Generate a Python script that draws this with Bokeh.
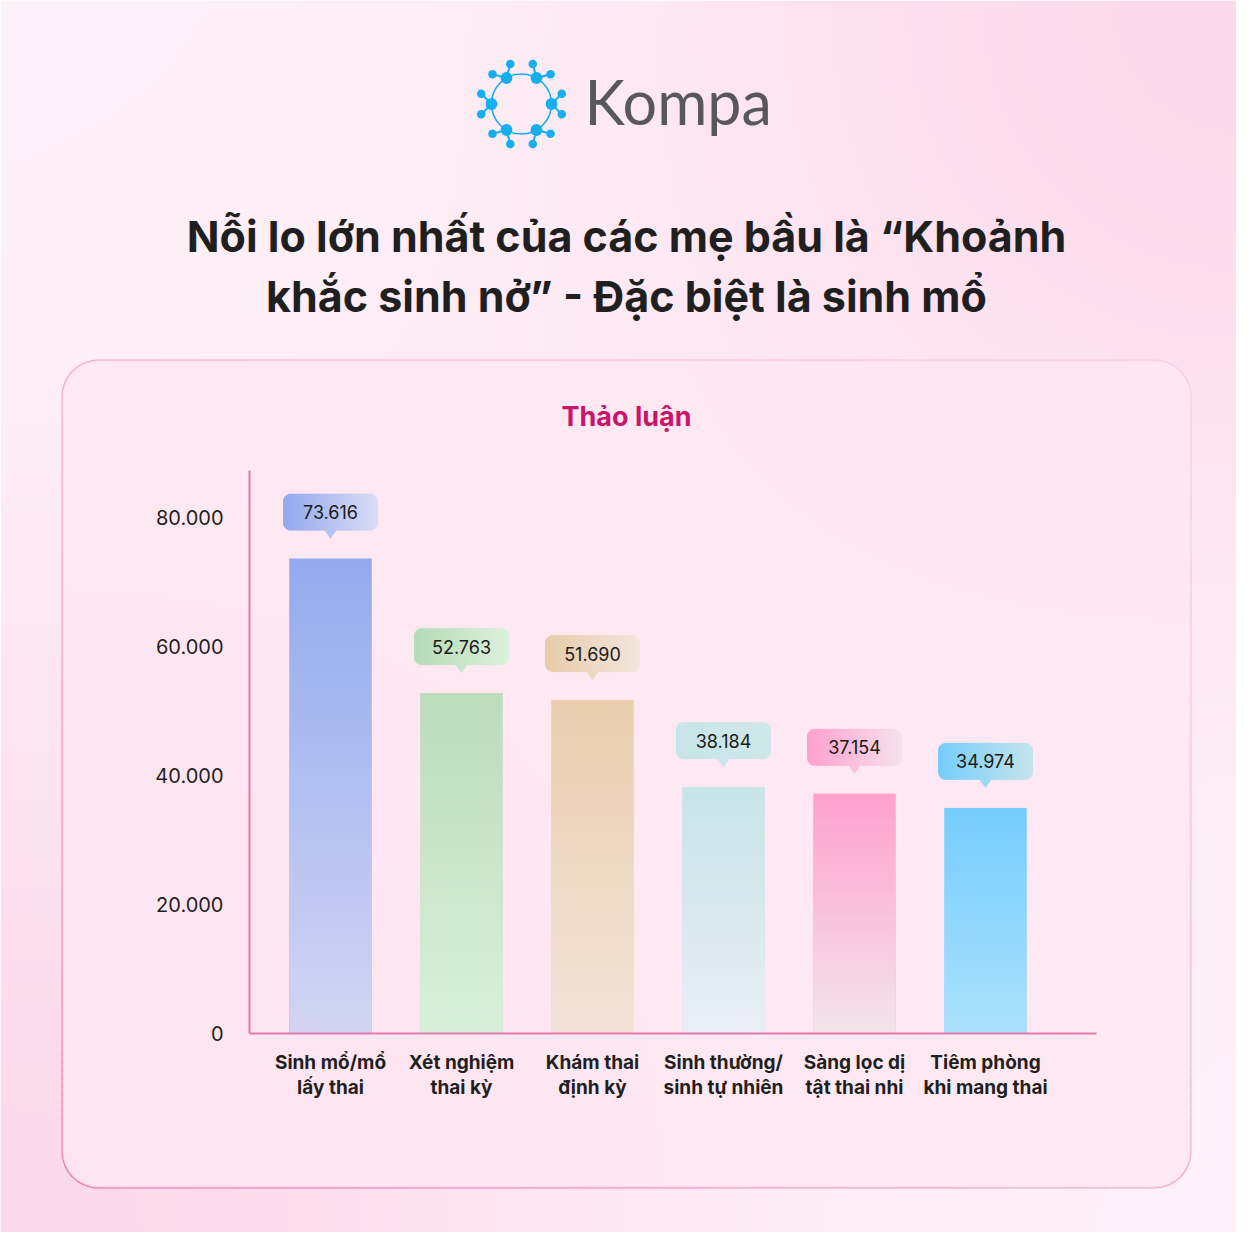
import numpy as np
from bokeh.plotting import figure
from bokeh.models import Range1d, LinearAxis, FixedTicker, BoxAnnotation
from bokeh.core.properties import value
from bokeh.embed import file_html
from bokeh.resources import INLINE

# ---------------- data ----------------
categories = ["Sinh mổ/mổ\nlấy thai", "Xét nghiệm\nthai kỳ", "Khám thai\nđịnh kỳ",
              "Sinh thường/\nsinh tự nhiên", "Sàng lọc dị\ntật thai nhi",
              "Tiêm phòng\nkhi mang thai"]
discussions = [73616, 52763, 51690, 38184, 37154, 34974]
value_labels = ["73.616", "52.763", "51.690", "38.184", "37.154", "34.974"]
y_ticks = [0, 20000, 40000, 60000, 80000]
y_tick_labels = ["0", "20.000", "40.000", "60.000", "80.000"]

title_lines = ["Nỗi lo lớn nhất của các mẹ bầu là “Khoảnh",
               "khắc sinh nở” - Đặc biệt là sinh mổ"]
subtitle = "Thảo luận"
brand = "Kompa"

bar_top_colors = ["#93abee", "#bcdcbc", "#e9cfae", "#c8e4e7", "#ffa1ce", "#76cefe"]
bar_bottom_colors = ["#d3d5f4", "#d9f1da", "#f3e3d9", "#eaeff6", "#f4e5eb", "#ace1fc"]
call_left_colors = ["#93a9ee", "#b5dcb6", "#e6ccaa", "#c9e5e8", "#ffa1cd", "#75cdfd"]
call_right_colors = ["#d9ddf7", "#ddf1dc", "#f4e6dd", "#cfe8ea", "#f7e1ec", "#c5e5ea"]

# ---------------- geometry (canvas pixels) ----------------
W, H = 1236, 1232
AX_L, AX_R, AX_T, AX_B = 249, 1096, 470, 1033   # chart area in canvas px
C0, STEP = 330, 131                              # first bar centre, spacing (px)
PX_PER_1000 = 6.45
uy = 1000 / PX_PER_1000                          # data units per px
Y_TOP = (AX_B - AX_T) * uy
BAR_W = 82 / STEP


def hex2rgb(h):
    return np.array([int(h[i:i + 2], 16) for i in (1, 3, 5)], dtype=float)


def rgb2hex(c):
    c = np.clip(np.round(c), 0, 255).astype(int)
    return "#%02x%02x%02x" % tuple(c)


def pack(arr):
    n, m, _ = arr.shape
    return np.ascontiguousarray(arr.astype(np.uint8)).view(np.uint32).reshape(n, m)


def vgrad(top, bottom, n=256, m=2):
    t = np.linspace(0, 1, n)[:, None]
    rgb = hex2rgb(bottom) * (1 - t) + hex2rgb(top) * t
    arr = np.zeros((n, m, 4))
    arr[..., :3] = rgb[:, None, :]
    arr[..., 3] = 255
    return pack(arr)


CW, CBOX, CPTR, CR, SS = 95, 37, 8, 8, 4


def callout_img(left, right):
    Ht = CBOX + CPTR
    xs_ = (np.arange(CW * SS) + 0.5) / SS
    ys_ = (np.arange(Ht * SS) + 0.5) / SS
    X, Y = np.meshgrid(xs_, ys_)
    dx = np.maximum(np.maximum(CR - X, 0), X - (CW - CR))
    dy = np.maximum(np.maximum(CR - Y, 0), Y - (CBOX - CR))
    box = (Y < CBOX) & (dx ** 2 + dy ** 2 <= CR ** 2)
    hw = 6.5 * (1 - (Y - (CBOX - 1)) / (CPTR + 1))
    tri = (Y >= CBOX - 1) & (np.abs(X - CW / 2) <= hw)
    mask = (box | tri).astype(float).reshape(Ht, SS, CW, SS).mean(axis=(1, 3))
    t = np.linspace(0, 1, CW)[None, :, None]
    rgb = hex2rgb(left) * (1 - t) + hex2rgb(right) * t
    arr = np.zeros((Ht, CW, 4))
    arr[..., :3] = rgb
    arr[..., 3] = mask * 255
    return pack(arr[::-1])


def background_img(nx=155, ny=154):
    Xs = (np.arange(nx) + 0.5) * W / nx
    Ys = H - (np.arange(ny) + 0.5) * H / ny        # row 0 = bottom
    X, Y = np.meshgrid(Xs, Ys)
    w1 = np.exp(-((X - 0) ** 2 + (Y - 1248) ** 2) / 700 ** 2)
    w2 = np.exp(-((X - 1252) ** 2 + (Y - 0) ** 2) / 650 ** 2)
    w = np.clip(w1 + w2, 0, 1)[..., None]
    base, pink = hex2rgb("#fff4fa"), hex2rgb("#fcdaeb")
    arr = np.zeros((ny, nx, 4))
    arr[..., :3] = base * (1 - w) + pink * w
    arr[..., 3] = 255
    return pack(arr)


# data ranges chosen so that the whole canvas is the frame
x_range = Range1d((0 - C0) / STEP, (W - C0) / STEP)
y_range = Range1d(-(H - AX_B) * uy, AX_B * uy)

p = figure(width=W, height=H, output_backend="svg", toolbar_location=None, tools="",
           x_range=x_range, y_range=y_range, x_axis_type=None, y_axis_type=None,
           min_border=0)
p.title.visible = False
p.border_fill_color = "#fff2f8"
p.background_fill_alpha = 0
p.outline_line_color = None
p.extra_x_ranges = {"px": Range1d(0, W)}
p.extra_y_ranges = {"py": Range1d(0, H)}
PXR = dict(x_range_name="px", y_range_name="py")


def PY(Y):
    return H - Y


# background gradient
p.image_rgba(image=[background_img()], x=[0], y=[0], dw=[W], dh=[H], level="image", **PXR)

# card
CL, CT, CRt, CB, RAD = 62, 360, 1190, 1187, 36
p.add_layout(BoxAnnotation(left=CL, right=CRt, top=PY(CT), bottom=PY(CB),
                           left_units="screen", right_units="screen",
                           top_units="screen", bottom_units="screen",
                           fill_color="#fde7f2", fill_alpha=0.75, line_color=None,
                           border_radius=RAD, level="underlay"))


def rr_path(l, t, r, b, rad):
    pts = []

    def edge(p0, p1):
        n = max(2, int(np.hypot(p1[0] - p0[0], p1[1] - p0[1]) / 8))
        for k in range(n):
            pts.append((p0[0] + (p1[0] - p0[0]) * k / n, p0[1] + (p1[1] - p0[1]) * k / n))

    def arc(cx, cy, a0, a1):
        for a in np.linspace(np.deg2rad(a0), np.deg2rad(a1), 18)[:-1]:
            pts.append((cx + rad * np.cos(a), cy + rad * np.sin(a)))

    edge((l + rad, t), (r - rad, t)); arc(r - rad, t + rad, -90, 0)
    edge((r, t + rad), (r, b - rad)); arc(r - rad, b - rad, 0, 90)
    edge((r - rad, b), (l + rad, b)); arc(l + rad, b - rad, 90, 180)
    edge((l, b - rad), (l, t + rad)); arc(l + rad, t + rad, 180, 270)
    pts.append(pts[0])
    return np.array(pts)


path = rr_path(CL, CT, CRt, CB, RAD)
mid = (path[:-1] + path[1:]) / 2
wgt = 0.5 * (mid[:, 1] - CT) / (CB - CT) + 0.5 * (CRt - mid[:, 0]) / (CRt - CL)
wgt = np.clip(wgt, 0, 1) ** 1.4
light, dark = hex2rgb("#f7cde1"), hex2rgb("#e27aae")
seg_colors = [rgb2hex(light * (1 - w) + dark * w) for w in wgt]
p.segment(x0=path[:-1, 0], y0=PY(path[:-1, 1]), x1=path[1:, 0], y1=PY(path[1:, 1]),
          line_color=seg_colors, line_width=2, line_cap="round", level="underlay", **PXR)

# logo
ccx, ccy, RR = 521, 103.5, 30
blue = "#15aef0"
p.circle(x=[ccx], y=[PY(ccy)], radius=RR, fill_color=None, line_color=blue, line_width=1.6, **PXR)
big_x, big_y, sm_x, sm_y, s0x, s0y, s1x, s1y = [], [], [], [], [], [], [], []
for k in range(6):
    th = np.deg2rad(60 * k)
    bx, by = ccx + RR * np.cos(th), ccy + RR * np.sin(th)
    big_x.append(bx); big_y.append(PY(by))
    for d in (-45, 45):
        ph = th + np.deg2rad(d)
        ex, ey = bx + 14.5 * np.cos(ph), by + 14.5 * np.sin(ph)
        sm_x.append(ex); sm_y.append(PY(ey))
        s0x.append(bx); s0y.append(PY(by)); s1x.append(ex); s1y.append(PY(ey))
p.segment(x0=s0x, y0=s0y, x1=s1x, y1=s1y, line_color=blue, line_width=2, **PXR)
p.scatter(x=sm_x, y=sm_y, size=8.6, fill_color=blue, line_color=None, **PXR)
p.scatter(x=big_x, y=big_y, size=11.8, fill_color=blue, line_color=None, **PXR)
p.text(x=[584], y=[PY(101)], text=[brand], text_font=value("Lato"), text_font_size="61px",
       text_color="#58585b", text_align="left", text_baseline="middle", **PXR)

# title + subtitle
p.text(x=[626, 626], y=[PY(235), PY(295)], text=title_lines, text_font=value("Inter"),
       text_font_style="bold", text_font_size="43px", text_color="#1f1f1f",
       text_align="center", text_baseline="middle", **PXR)
p.text(x=[626], y=[PY(416)], text=[subtitle], text_font=value("Inter"),
       text_font_style="bold", text_font_size="27px", text_color="#c8166b",
       text_align="center", text_baseline="middle", **PXR)

# bars
xs = list(range(len(categories)))
p.vbar(x=xs, top=discussions, width=BAR_W, fill_color=bar_top_colors, line_color=None)
p.image_rgba(image=[vgrad(t, b) for t, b in zip(bar_top_colors, bar_bottom_colors)],
             x=[x - BAR_W / 2 for x in xs], y=[0] * len(xs), dw=[BAR_W] * len(xs), dh=discussions)

# callouts
cw = CW / STEP
p.image_rgba(image=[callout_img(l, r) for l, r in zip(call_left_colors, call_right_colors)],
             x=[x - cw / 2 for x in xs], y=[v + 20 * uy for v in discussions],
             dw=[cw] * len(xs), dh=[(CBOX + CPTR) * uy] * len(xs))
p.text(x=xs, y=discussions, text=value_labels, y_offset=-(20 + CPTR + CBOX / 2),
       text_align="center", text_baseline="middle", text_font=value("Inter"),
       text_font_size="18px", text_color="#1a1a1a")

# axes (drawn inside the frame at fixed data locations)
axis_color = "#e27aab"
x_left = (AX_L - C0) / STEP
x_right = (AX_R - C0) / STEP
yaxis = LinearAxis(ticker=FixedTicker(ticks=y_ticks), fixed_location=x_left, bounds=(0, Y_TOP),
                   major_label_overrides={t: l for t, l in zip(y_ticks, y_tick_labels)},
                   axis_line_color=axis_color, axis_line_width=2,
                   major_tick_line_color=None, minor_tick_line_color=None,
                   major_tick_out=0, major_tick_in=0, major_label_standoff=26,
                   major_label_text_font="Inter", major_label_text_font_size="20px",
                   major_label_text_color="#1f1f1f")
p.add_layout(yaxis, "left")
xaxis = LinearAxis(ticker=FixedTicker(ticks=xs), fixed_location=0, bounds=(x_left, x_right),
                   major_label_overrides={i: c for i, c in enumerate(categories)},
                   axis_line_color=axis_color, axis_line_width=2,
                   major_tick_line_color=None, minor_tick_line_color=None,
                   major_tick_out=0, major_tick_in=0, major_label_standoff=17,
                   major_label_text_font="Inter", major_label_text_font_style="bold",
                   major_label_text_font_size="19px", major_label_text_color="#1f1f1f",
                   major_label_text_line_height=1.1)
p.add_layout(xaxis, "below")

open("out.html", "w").write(file_html(p, INLINE))
